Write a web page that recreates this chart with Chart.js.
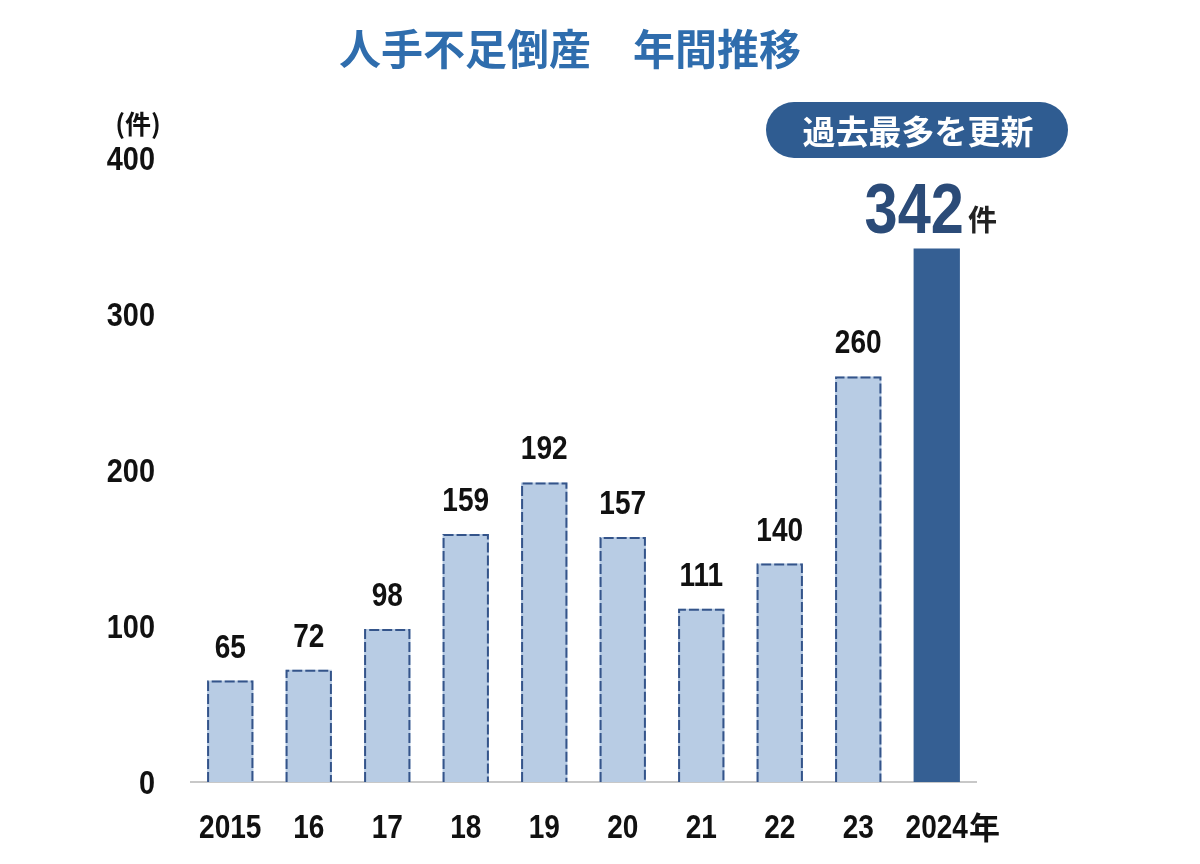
<!DOCTYPE html>
<html>
<head>
<meta charset="utf-8">
<script src="https://cdn.jsdelivr.net/npm/chart.js@4.4.1/dist/chart.umd.min.js"></script>
<style>
html,body{margin:0;padding:0;background:#fff;}
#wrap{width:1200px;height:864px;position:relative;}
</style>
</head>
<body>
<div id="wrap"><canvas id="c" width="1200" height="864"></canvas></div>
<script>
const categories = ['2015','16','17','18','19','20','21','22','23','2024年'];
const values = [65,72,98,159,192,157,111,140,260,342];
const yTicks = [0,100,200,300,400];
const chartTitle = '人手不足倒産　年間推移';
const badgeText = '過去最多を更新';
const unitLabel = '(件)';
const unit = '件';

const NUM_FONT = '"Liberation Sans", Arial, sans-serif';
const JP_FONT = '"Noto Sans CJK JP", "Noto Sans", sans-serif';
const SQUEEZE = 0.85;

const lightFill = '#b8cce4';
const darkFill = '#355f93';
const dashColor = '#34548a';

function squeezedText(ctx, text, x, y, align) {
  const w = ctx.measureText(text).width * SQUEEZE;
  let left = x;
  if (align === 'center') left = x - w / 2;
  else if (align === 'right') left = x - w;
  ctx.save();
  ctx.textAlign = 'left';
  ctx.translate(left, y);
  ctx.scale(SQUEEZE, 1);
  ctx.fillText(text, 0, 0);
  ctx.restore();
  return w;
}

const decorPlugin = {
  id: 'decor',
  afterDatasetsDraw(chart) {
    const ctx = chart.ctx;
    const meta = chart.getDatasetMeta(0);
    ctx.save();
    // dashed borders on light bars
    meta.data.forEach((bar, i) => {
      if (i === values.length - 1) return;
      const p = bar.getProps(['x','y','base','width'], true);
      const l = p.x - p.width/2 + 1, r = p.x + p.width/2 - 1;
      ctx.beginPath();
      ctx.setLineDash([10,3]);
      ctx.lineWidth = 2;
      ctx.strokeStyle = dashColor;
      ctx.moveTo(l, p.base);
      ctx.lineTo(l, p.y + 1);
      ctx.lineTo(r, p.y + 1);
      ctx.lineTo(r, p.base);
      ctx.stroke();
    });
    ctx.setLineDash([]);
    // value labels
    ctx.fillStyle = '#111';
    ctx.textBaseline = 'alphabetic';
    ctx.font = 'bold 33px ' + NUM_FONT;
    meta.data.forEach((bar, i) => {
      if (i === values.length - 1) return;
      const p = bar.getProps(['x','y'], true);
      squeezedText(ctx, String(values[i]), p.x, p.y - 23, 'center');
    });
    // highlight value for last bar
    const last = meta.data[values.length - 1].getProps(['x','y'], true);
    const numStr = String(values[values.length - 1]);
    ctx.font = 'bold 70px ' + NUM_FONT;
    const nw = ctx.measureText(numStr).width * SQUEEZE;
    ctx.font = 'bold 29px ' + JP_FONT;
    const uw = ctx.measureText(unit).width;
    const total = nw + 4 + uw;
    const startX = last.x - 6 - total/2;
    ctx.fillStyle = '#2b4b78';
    ctx.font = 'bold 70px ' + NUM_FONT;
    squeezedText(ctx, numStr, startX, last.y - 15, 'left');
    ctx.fillStyle = '#222';
    ctx.font = 'bold 29px ' + JP_FONT;
    ctx.textAlign = 'left';
    ctx.fillText(unit, startX + nw + 4, last.y - 17);
    ctx.restore();
  },
  afterDraw(chart) {
    const ctx = chart.ctx;
    ctx.save();
    // axis tick labels, positioned by the chart's scales
    const xs = chart.scales.x, ys = chart.scales.y;
    ctx.fillStyle = '#111';
    ctx.textBaseline = 'alphabetic';
    xs.ticks.forEach((t, i) => {
      const lab = String(categories[i]);
      const m = lab.match(/^(\d+)(.*)$/);
      const x = xs.getPixelForTick(i);
      const y = xs.top + 56;
      ctx.font = 'bold 33px ' + NUM_FONT;
      const w = squeezedText(ctx, m ? m[1] : lab, x, y, 'center');
      if (m && m[2]) {
        ctx.font = 'bold 31px ' + JP_FONT;
        ctx.textAlign = 'left';
        ctx.fillText(m[2], x + w/2 + 1, y + 1);
      }
    });
    ctx.font = 'bold 34px ' + NUM_FONT;
    yTicks.forEach(v => {
      squeezedText(ctx, String(v), 155, ys.getPixelForValue(v) + 12, 'right');
    });
    // title
    ctx.fillStyle = '#2f6dad';
    ctx.font = 'bold 42px ' + JP_FONT;
    ctx.textAlign = 'center';
    ctx.textBaseline = 'middle';
    ctx.fillText(chartTitle, 570, 49);
    // unit label
    ctx.fillStyle = '#111';
    ctx.font = 'bold 26px ' + JP_FONT;
    ctx.fillText(unitLabel, 138, 124);
    // badge
    const bx = 766, by = 102, bw = 302, bh = 56, rr = 28;
    ctx.fillStyle = '#2f5c91';
    ctx.beginPath();
    ctx.moveTo(bx + rr, by);
    ctx.lineTo(bx + bw - rr, by);
    ctx.arc(bx + bw - rr, by + rr, rr, -Math.PI/2, Math.PI/2);
    ctx.lineTo(bx + rr, by + bh);
    ctx.arc(bx + rr, by + rr, rr, Math.PI/2, Math.PI*1.5);
    ctx.closePath();
    ctx.fill();
    ctx.fillStyle = '#ffffff';
    ctx.font = 'bold 33px ' + JP_FONT;
    ctx.fillText(badgeText, bx + bw/2 + 1, by + bh/2 + 1);
    ctx.restore();
  }
};

new Chart(document.getElementById('c'), {
  type: 'bar',
  data: {
    labels: categories,
    datasets: [{
      data: values,
      backgroundColor: values.map((v, i) => i === values.length - 1 ? darkFill : lightFill),
      borderWidth: 0,
      barPercentage: 0.59,
      categoryPercentage: 1.0
    }]
  },
  options: {
    responsive: false,
    animation: false,
    devicePixelRatio: 1,
    layout: { padding: { left: 0, right: 224, top: 158, bottom: 0 } },
    plugins: { legend: { display: false }, tooltip: { enabled: false }, title: { display: false } },
    scales: {
      x: {
        grid: { display: true, color: 'rgba(0,0,0,0)', drawTicks: false },
        border: { display: true, color: '#c8c8c8', width: 2 },
        ticks: { display: false, autoSkip: false },
        afterFit(scale) { scale.height = 82; }
      },
      y: {
        min: 0, max: 400,
        afterBuildTicks(scale) { scale.ticks = yTicks.map(v => ({ value: v })); },
        grid: { display: false, drawTicks: false },
        border: { display: false },
        ticks: { display: false },
        afterFit(scale) { scale.width = 191; }
      }
    }
  },
  plugins: [decorPlugin]
});
</script>
</body>
</html>
